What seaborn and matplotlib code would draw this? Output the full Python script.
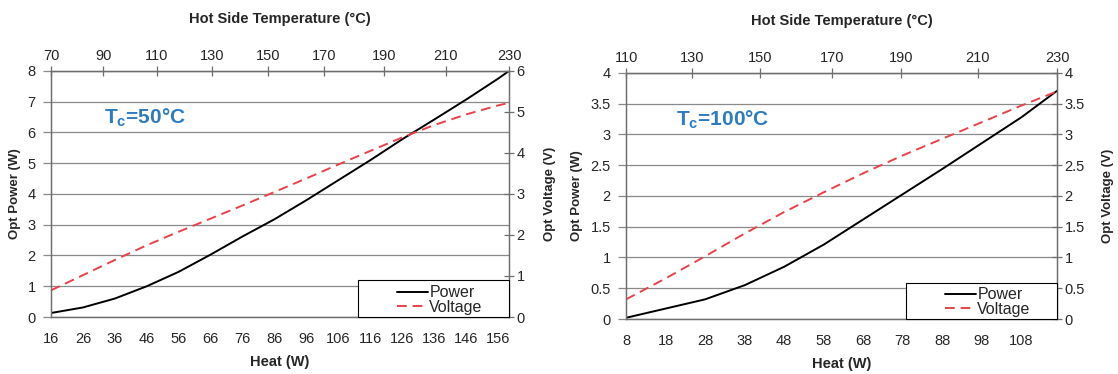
import numpy as np
import matplotlib
matplotlib.use("Agg")
import matplotlib.pyplot as plt
import seaborn as sns
from matplotlib.ticker import FormatStrFormatter
from matplotlib.patches import Rectangle

# ---------------- data: left panel (Tc = 50 °C) ----------------
heat_50 = [16, 26, 36, 46, 56, 66, 76, 86, 96, 106, 116, 126, 136, 146, 156, 159.4]
power_50 = [0.13, 0.31, 0.60, 1.00, 1.47, 2.03, 2.62, 3.18, 3.80, 4.45, 5.10,
            5.78, 6.42, 7.07, 7.75, 8.00]
voltage_50 = [0.65, 1.02, 1.39, 1.75, 2.08, 2.40, 2.72, 3.05, 3.38, 3.72, 4.05,
              4.38, 4.68, 4.94, 5.16, 5.22]
heat_ticks_50 = list(range(16, 157, 10))
hot_temp_50 = [70, 90, 110, 130, 150, 170, 190, 210, 230]
hot_temp_pos_50 = [16, 32.4, 49.1, 66.5, 83.9, 101.5, 120.3, 139.6, 159.4]

# ---------------- data: right panel (Tc = 100 °C) ----------------
heat_100 = [8, 18, 28, 38, 48, 58, 68, 78, 88, 98, 108, 117]
power_100 = [0.02, 0.17, 0.32, 0.55, 0.85, 1.21, 1.62, 2.03, 2.44, 2.86, 3.28, 3.71]
voltage_100 = [0.32, 0.66, 1.02, 1.39, 1.74, 2.06, 2.37, 2.66, 2.93, 3.20, 3.47, 3.70]
heat_ticks_100 = list(range(8, 109, 10))
hot_temp_100 = [110, 130, 150, 170, 190, 210, 230]
hot_temp_pos_100 = [8, 24.6, 41.9, 60.0, 77.5, 96.9, 117]

sns.set_style("white")
plt.rcParams["font.family"] = ["Liberation Sans", "DejaVu Sans"]
plt.rcParams["mathtext.fontset"] = "custom"
plt.rcParams["mathtext.rm"] = "Liberation Sans:bold"
plt.rcParams["mathtext.it"] = "Liberation Sans:bold"
plt.rcParams["mathtext.bf"] = "Liberation Sans:bold"

RED = "#E8424B"
GRID = "#8a8a8a"
SPINE = "#6e6e6e"
BLUE = "#2F7BC0"
TICK_FS = 10.5
XLAB_FS = 10.5
YLAB_FS = 9.5

fig = plt.figure(figsize=(11.18, 3.74), dpi=100)


def panel(rect, heat, power, volt, temps, temp_pos, heat_ticks, p_max, p_step,
          v_max, v_step, tc_text, leg_box, y2pad):
    ax = fig.add_axes(rect)
    sns.lineplot(x=heat, y=power, ax=ax, color="black", linewidth=1.4,
                 label="Power", legend=False)
    ax.set_xlim(heat[0], heat[-1])
    ax.set_ylim(0, p_max)
    ax.set_xticks(heat_ticks)
    ax.set_yticks(np.arange(0, p_max + 1e-9, p_step))
    ax.yaxis.set_major_formatter(FormatStrFormatter("%g"))
    ax.yaxis.grid(True, color=GRID, linewidth=0.9)
    ax.xaxis.grid(False)
    for s in ax.spines.values():
        s.set_color(SPINE)
        s.set_linewidth(0.9)
    ax.tick_params(axis="x", direction="out", length=5, width=0.9,
                   color=SPINE, labelsize=TICK_FS, pad=6)
    ax.tick_params(axis="y", direction="out", length=6, width=0.9,
                   color=GRID, labelsize=TICK_FS, pad=5)
    ax.set_xlabel("Heat (W)", fontweight="bold", fontsize=XLAB_FS, labelpad=6)
    ax.set_ylabel("Opt Power (W)", fontweight="bold", fontsize=YLAB_FS,
                  labelpad=5)

    ax2 = ax.twinx()
    sns.lineplot(x=heat, y=volt, ax=ax2, color=RED, linewidth=1.4,
                 linestyle=(0, (5, 3)), label="Voltage", legend=False)
    ax2.set_ylim(0, v_max)
    ax2.set_yticks(np.arange(0, v_max + 1e-9, v_step))
    ax2.yaxis.set_major_formatter(FormatStrFormatter("%g"))
    ax2.grid(False)
    for s in ax2.spines.values():
        s.set_color(SPINE)
        s.set_linewidth(0.9)
    ax2.tick_params(axis="y", direction="inout", length=7, width=0.9,
                    color=SPINE, labelsize=TICK_FS, pad=2)
    ax2.set_ylabel("Opt Voltage (V)", fontweight="bold", fontsize=YLAB_FS,
                   labelpad=y2pad)

    sec = ax.secondary_xaxis("top")
    sec.set_xticks(temp_pos, labels=[str(t) for t in temps])
    sec.tick_params(direction="inout", length=7, width=0.9, color=SPINE,
                    labelsize=TICK_FS, pad=2)
    sec.spines["top"].set_color(SPINE)
    sec.set_xlabel("Hot Side Temperature (°C)", fontweight="bold",
                   fontsize=XLAB_FS, labelpad=19)

    ax.text(0.115, 0.81, tc_text, transform=ax.transAxes, color=BLUE,
            fontsize=15, fontweight="bold", va="center", ha="left")

    # legend frame (Excel-style wide box) and legend entries
    x0, h = leg_box
    ax2.add_patch(Rectangle((x0, 0), 1 - x0, h, transform=ax2.transAxes,
                            facecolor="white", edgecolor="black",
                            linewidth=0.8, zorder=5, clip_on=False))
    h1, l1 = ax.get_legend_handles_labels()
    h2, l2 = ax2.get_legend_handles_labels()
    leg = ax2.legend(h1 + h2, l1 + l2, loc="lower right",
                     bbox_to_anchor=(1 - 24 / (rect[2] * 1118), 0.0),
                     frameon=False, borderaxespad=0, fontsize=11.5,
                     handlelength=1.9, handletextpad=0.1, labelspacing=-0.05,
                     borderpad=0.15)
    leg.set_zorder(6)
    return ax, ax2


panel([0.0456, 0.1524, 0.4097, 0.658], heat_50, power_50, voltage_50,
      hot_temp_50, hot_temp_pos_50, heat_ticks_50, 8, 1, 6, 1,
      "T$_{\\mathrm{c}}$=50°C", (0.67, 0.152), 14)
panel([0.560, 0.147, 0.3855, 0.658], heat_100, power_100, voltage_100,
      hot_temp_100, hot_temp_pos_100, heat_ticks_100, 4, 0.5, 4, 0.5,
      "T$_{\\mathrm{c}}$=100°C", (0.65, 0.146), 12)

fig.savefig("out.png", dpi=100)
